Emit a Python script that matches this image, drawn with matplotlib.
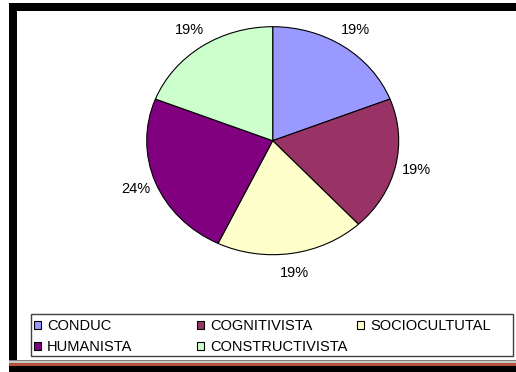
import matplotlib
matplotlib.use("Agg")
import matplotlib.pyplot as plt
from matplotlib.patches import Rectangle

plt.rcParams['font.family'] = ['Liberation Sans', 'DejaVu Sans']

categories = ["CONDUC", "COGNITIVISTA", "SOCIOCULTUTAL", "HUMANISTA", "CONSTRUCTIVISTA"]
values = [4, 4, 4, 5, 4]
colors = ["#9999FF", "#993366", "#FFFFCC", "#800080", "#CCFFCC"]

W, H = 516, 372
fig = plt.figure(figsize=(W / 100, H / 100), dpi=100)
fig.patch.set_facecolor("white")


def box(x, y, w, h):
    """pixel box (top-left origin) -> figure fraction rect"""
    return (x / W, 1 - (y + h) / H, w / W, h / H)


def frect(x, y, w, h, **kw):
    x0, y0, ww, hh = box(x, y, w, h)
    fig.add_artist(Rectangle((x0, y0), ww, hh, transform=fig.transFigure, **kw))


# outer frame
frect(9, 3, W - 9, 8, facecolor="black", edgecolor="none")
frect(9, 3, 8, H - 3, facecolor="black", edgecolor="none")
frect(9, 360, W - 9, 1, facecolor="#808080", edgecolor="none")
frect(9, 361, W - 9, 2, facecolor="#c8c8c8", edgecolor="none")
frect(9, 363, W - 9, 3, facecolor="#b85040", edgecolor="none")
frect(9, 366, W - 9, H - 366, facecolor="black", edgecolor="none")

# pie
cx, cy, rx, ry = 272.7, 140.7, 126, 114
ax = fig.add_axes(box(cx - rx, cy - ry, 2 * rx, 2 * ry))
wedges, texts, autotexts = ax.pie(
    values, colors=colors, startangle=90, counterclock=False,
    autopct=lambda p: f"{p:.0f}%", pctdistance=1.17,
    wedgeprops=dict(edgecolor="black", linewidth=0.8),
    textprops=dict(fontsize=10.5, color="black"),
)
ax.set_aspect("auto")
ax.set_xlim(-1, 1)
ax.set_ylim(-1, 1)
ax.axis("off")

# legend frame
frect(31, 314, 482, 42, facecolor="white", edgecolor="#404040", linewidth=1.0, zorder=5)

# legend columns (row-major order as in the reference)
col_idx = [[0, 3], [1, 4], [2]]
col_x = [34, 197, 357]
for idx, xpx in zip(col_idx, col_x):
    leg = fig.legend([wedges[i] for i in idx], [categories[i] for i in idx],
                     loc="upper left", bbox_to_anchor=(xpx / W, 1 - 319.5 / H),
                     bbox_transform=fig.transFigure, frameon=False,
                     fontsize=10.5, borderpad=0, borderaxespad=0,
                     handlelength=0.5, handleheight=0.5, handletextpad=0.4,
                     labelspacing=0.45)
    leg.set_zorder(6)

fig.savefig("out.png", dpi=100, facecolor="white")
